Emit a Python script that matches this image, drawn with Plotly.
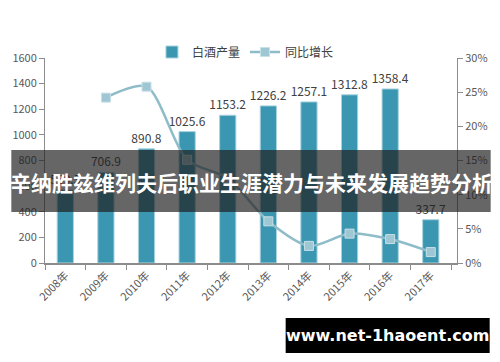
import plotly.graph_objects as go

years = ["2008年", "2009年", "2010年", "2011年", "2012年", "2013年", "2014年", "2015年", "2016年", "2017年"]
output = [569.3, 706.9, 890.8, 1025.6, 1153.2, 1226.2, 1257.1, 1312.8, 1358.4, 337.7]
growth_years = ["2009年", "2010年", "2011年", "2012年", "2013年", "2014年", "2015年", "2016年", "2017年"]
growth = [24.2, 25.8, 15.1, 12.4, 6.1, 2.5, 4.3, 3.5, 1.6]
left_ticks = [0, 200, 400, 600, 800, 1000, 1200, 1400, 1600]
right_ticks = [0, 5, 10, 15, 20, 25, 30]

W, H = 500, 362
L, R, T, B = 42, 42, 58, 99
pw, ph = W - L - R, H - T - B

def px(x):
    return (x - L) / pw

def py(y):
    return (H - B - y) / ph

FONT = "Noto Sans CJK SC, Noto Sans, sans-serif"

fig = go.Figure()
fig.add_trace(go.Bar(
    x=years, y=output, name="白酒产量",
    marker=dict(color="#3b97b1", line=dict(color="#a9d3df", width=1)),
    width=0.4,
    text=[f"{v:.1f}" for v in output], textposition="outside",
    constraintext="none", textangle=0,
    textfont=dict(size=12, color="#404040", family=FONT),
    cliponaxis=False,
))
fig.add_trace(go.Scatter(
    x=growth_years, y=growth, name="同比增长", yaxis="y2",
    mode="lines+markers",
    line=dict(color="#8fbcc9", width=2.5, shape="spline", smoothing=0.8),
    marker=dict(symbol="square", size=9, color="#9ec6d3", line=dict(color="#c7e0e8", width=1)),
))

fig.update_layout(
    width=W, height=H,
    margin=dict(l=L, r=R, t=T, b=B),
    paper_bgcolor="white", plot_bgcolor="white",
    font=dict(family=FONT, size=11, color="#595959"),
    showlegend=True,
    legend=dict(orientation="h", x=px(150), y=py(52), xanchor="left", yanchor="middle",
                font=dict(size=12, color="#404040"), itemwidth=30, bgcolor="rgba(0,0,0,0)",
                tracegroupgap=0),
    xaxis=dict(
        type="category", showline=True, linecolor="#8c8c8c", linewidth=1.5,
        ticks="outside", ticklen=5, tickcolor="#8c8c8c", tickson="boundaries",
        tickangle=-45, tickfont=dict(size=11, color="#595959"),
        showgrid=False, zeroline=False,
    ),
    yaxis=dict(
        range=[0, 1600], tickvals=left_ticks, showline=True, linecolor="#8c8c8c", linewidth=1,
        ticks="outside", ticklen=5, tickcolor="#8c8c8c", showgrid=False, zeroline=False,
        tickfont=dict(size=11, color="#595959"),
    ),
    yaxis2=dict(
        range=[0, 30], tickvals=right_ticks, ticktext=[f"{v}%" for v in right_ticks],
        overlaying="y", side="right", showline=True, linecolor="#8c8c8c", linewidth=1,
        ticks="outside", ticklen=5, tickcolor="#8c8c8c", showgrid=False, zeroline=False,
        tickfont=dict(size=11, color="#595959"),
    ),
)

# dark title banner overlay
fig.add_shape(type="rect", xref="paper", yref="paper",
              x0=px(8), x1=px(492), y0=py(212), y1=py(150),
              fillcolor="rgba(30,30,30,0.68)", line=dict(width=0), layer="above")
fig.add_annotation(xref="paper", yref="paper", x=px(250), y=py(182),
                   text="<b>辛纳胜兹维列夫后职业生涯潜力与未来发展趋势分析</b>",
                   showarrow=False, font=dict(size=21, color="white", family=FONT),
                   xanchor="center", yanchor="middle")

# website watermark box
fig.add_shape(type="rect", xref="paper", yref="paper",
              x0=px(285), x1=px(491), y0=py(353), y1=py(318),
              fillcolor="black", line=dict(width=0), layer="above")
fig.add_annotation(xref="paper", yref="paper", x=px(388), y=py(335.5),
                   text="<b>www.net-1haoent.com</b>",
                   showarrow=False, font=dict(size=16, color="white", family="DejaVu Sans, sans-serif"),
                   xanchor="center", yanchor="middle")

fig.write_html("out.html")
